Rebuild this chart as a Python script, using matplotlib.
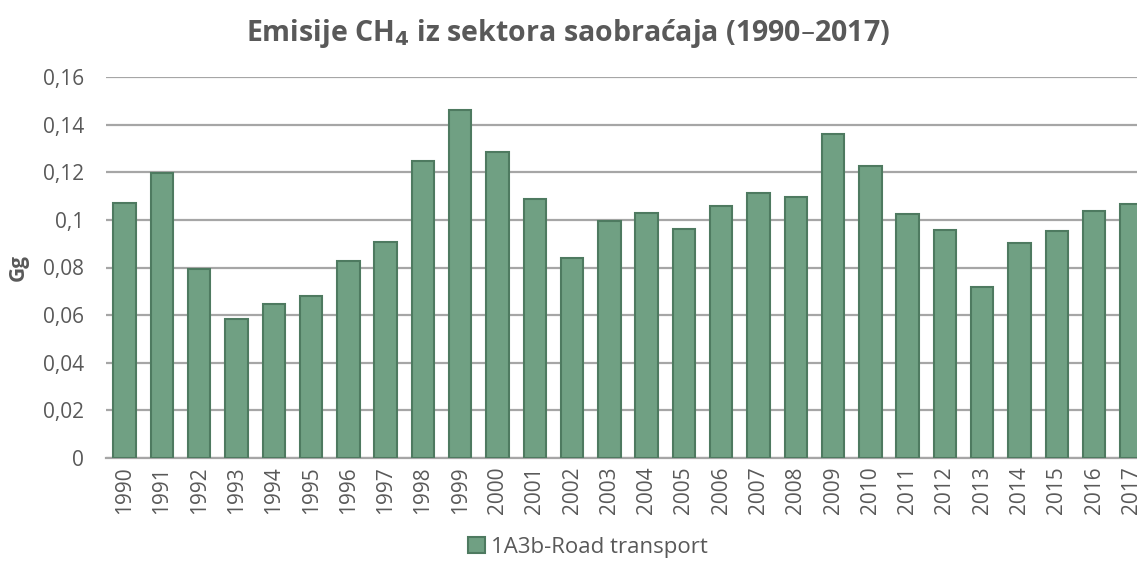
import matplotlib.pyplot as plt
import matplotlib.ticker as ticker
import numpy as np

years = [str(y) for y in range(1990, 2018)]
road = [0.107, 0.1198, 0.0792, 0.0584, 0.0647, 0.0682, 0.0827, 0.0907,
        0.1249, 0.1463, 0.1287, 0.1089, 0.0841, 0.0994, 0.1029, 0.0962,
        0.1058, 0.1113, 0.1095, 0.1359, 0.1225, 0.1026, 0.0959, 0.0718,
        0.0903, 0.0955, 0.1037, 0.1068]
series_name = "1A3b-Road transport"

plt.rcParams['font.family'] = ['Open Sans', 'DejaVu Sans']
grey = '#595959'

fig = plt.figure(figsize=(11.37, 5.66), dpi=100)
ax = fig.add_axes([106 / 1137, 1 - 458 / 566, 1044 / 1137, 381 / 566])

x = np.arange(len(years))
ax.bar(x, road, width=0.6, color='#70A083', edgecolor='#4E7A60',
       linewidth=1.5, label=series_name, zorder=3)

ax.set_xlim(-0.5, len(years) - 0.5)
ax.set_ylim(0, 0.16)
ax.set_yticks(np.arange(0, 0.161, 0.02))
ax.yaxis.set_major_formatter(
    ticker.FuncFormatter(lambda v, p: f"{round(v, 2):g}".replace('.', ',')))
ax.set_xticks(x)
ax.set_xticklabels(years, rotation=90)

ax.tick_params(axis='both', length=0, colors=grey, labelsize=15)
ax.tick_params(axis='y', pad=16)
ax.tick_params(axis='x', pad=6)

# mreža
ax.yaxis.grid(True, color='#A6A6A6', linewidth=1.6, zorder=0)
for s in ['top', 'right', 'left']:
    ax.spines[s].set_visible(False)
ax.spines['bottom'].set_color('#A6A6A6')
ax.spines['bottom'].set_linewidth(1.6)

ax.set_ylabel("Gg", fontsize=15, fontweight='bold', color=grey, labelpad=10)

fig.text(0.5, 1 - 33 / 566, "Emisije CH$_\\mathbf{4}$ iz sektora saobraćaja (1990–2017)",
         ha='center', va='center', fontsize=20.5, fontweight='bold', color=grey)

fig.legend(loc='center', bbox_to_anchor=(588 / 1137, 1 - 547 / 566), frameon=False,
           fontsize=16, labelcolor=grey, handlelength=0.75, handleheight=0.75,
           handletextpad=0.3)

fig.savefig('out.png', dpi=100)
